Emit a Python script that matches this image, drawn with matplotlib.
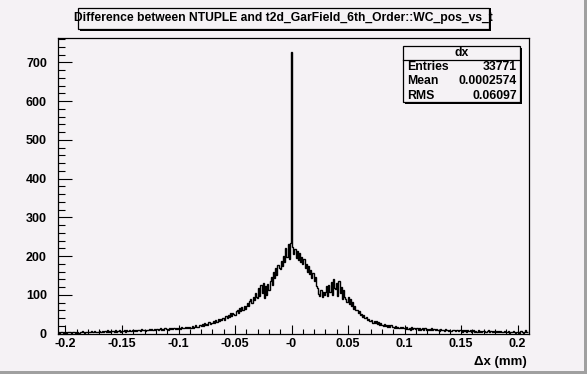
import matplotlib
matplotlib.use('Agg')
import matplotlib.pyplot as plt
import numpy as np
from matplotlib.patches import Rectangle

# histogram dx, 0.001 mm bins, first bin centred at -0.207
counts = [
    2, 4, 1, 3, 5, 2, 3,                              # -0.207
    3, 2, 5, 3, 4, 1, 4, 3, 5, 2,                     # -0.200
    4, 3, 2, 5, 3, 6, 4, 2, 5, 4,                     # -0.190
    3, 5, 4, 6, 3, 5, 7, 4, 5, 3,                     # -0.180
    6, 4, 5, 7, 4, 6, 5, 8, 4, 6,                     # -0.170
    5, 7, 6, 4, 8, 5, 7, 6, 9, 5,                     # -0.160
    7, 6, 8, 5, 9, 7, 6, 8, 7, 10,                    # -0.150
    8, 6, 9, 7, 10, 8, 7, 11, 8, 9,                   # -0.140
    9, 7, 10, 8, 11, 9, 12, 8, 10, 11,                # -0.130
    10, 12, 9, 11, 13, 10, 12, 9, 14, 11,             # -0.120
    12, 10, 13, 11, 14, 12, 15, 11, 13, 12,           # -0.110
    13, 15, 12, 17, 14, 13, 18, 14, 16, 15,           # -0.100
    16, 14, 19, 15, 17, 21, 16, 18, 17, 22,           # -0.090
    19, 24, 20, 26, 21, 25, 23, 29, 24, 28,           # -0.080
    27, 33, 28, 35, 30, 38, 32, 37, 34, 41,           # -0.070
    40, 36, 45, 41, 48, 42, 52, 45, 54, 50,           # -0.060
    49, 58, 61, 53, 66, 57, 68, 60, 72, 63,           # -0.050
    70, 78, 72, 84, 90, 78, 95, 86, 105, 94,          # -0.040
    92, 118, 96, 126, 104, 130, 92, 122, 100, 128,    # -0.030
    112, 136, 145, 126, 158, 142, 168, 152, 176, 170, # -0.020
    166, 188, 174, 200, 184, 220, 198, 230, 192, 234, # -0.010
    727, 222, 204, 218, 194, 214, 190, 208, 184, 198, # 0.000
    180, 192, 168, 180, 160, 174, 154, 164, 144, 156, # 0.010
    136, 146, 122, 118, 102, 98, 112, 94, 106, 100,   # 0.020
    108, 122, 98, 126, 106, 134, 100, 140, 118, 114,  # 0.030
    130, 96, 136, 104, 120, 90, 112, 94, 90, 82,      # 0.040
    94, 76, 88, 70, 82, 64, 72, 60, 60, 52,           # 0.050
    58, 48, 50, 42, 47, 39, 43, 36, 37, 33,           # 0.060
    33, 35, 28, 32, 26, 31, 25, 29, 23, 26,           # 0.070
    23, 20, 25, 19, 23, 18, 22, 17, 21, 16,           # 0.080
    18, 15, 20, 14, 18, 13, 17, 14, 18, 13,           # 0.090
    15, 12, 17, 11, 15, 10, 16, 12, 13, 14,           # 0.100
    12, 14, 10, 13, 9, 12, 14, 10, 13, 9,             # 0.110
    11, 8, 12, 10, 13, 8, 11, 9, 12, 8,               # 0.120
    10, 7, 11, 9, 10, 7, 12, 8, 10, 7,                # 0.130
    9, 6, 10, 8, 9, 6, 8, 10, 6, 9,                   # 0.140
    8, 5, 9, 7, 8, 5, 9, 6, 8, 5,                     # 0.150
    7, 8, 5, 7, 4, 8, 5, 7, 4, 7,                     # 0.160
    6, 7, 4, 6, 8, 4, 6, 7, 4, 6,                     # 0.170
    5, 6, 3, 7, 4, 6, 3, 5, 6, 3,                     # 0.180
    5, 3, 6, 2, 5, 4, 6, 4, 2, 5,                     # 0.190
    4, 5, 2, 6, 3, 2, 5, 8, 3, 5,                     # 0.200
]
bin_width = 0.001
first_edge = -0.2075

x_ticks = [-0.2, -0.15, -0.1, -0.05, 0.0, 0.05, 0.1, 0.15, 0.2]
x_ticklabels = ['-0.2', '-0.15', '-0.1', '-0.05', '-0', '0.05', '0.1', '0.15', '0.2']
y_ticks = [0, 100, 200, 300, 400, 500, 600, 700]

title = 'Difference between NTUPLE and t2d_GarField_6th_Order::WC_pos_vs_t'
stats_name = 'dx'
stats_rows = [('Entries', '33771'), ('Mean', '0.0002574'), ('RMS', '0.06097')]
x_label = '\u0394x (mm)'

W, H = 587, 374
bg = '#f5f2f5'
plt.rcParams['font.family'] = ['Liberation Sans', 'DejaVu Sans']
plt.rcParams['font.weight'] = 'bold'


def fx(x):
    return x / W


def fy(y):
    return 1 - y / H


fig = plt.figure(figsize=(W / 100, H / 100), dpi=100, facecolor=bg)
ax = fig.add_axes([fx(58), fy(333.5), fx(528.5) - fx(58), fy(37.7) - fy(333.5)])
ax.set_facecolor(bg)

edges = first_edge + bin_width * np.arange(len(counts) + 1)
ax.stairs(counts, edges, color='black', lw=1.0, baseline=None)

ax.set_xlim(-0.2066, 0.2096)
ax.set_ylim(0, 763.5)
ax.set_xticks(x_ticks)
ax.set_xticklabels(x_ticklabels)
ax.set_xticks(np.arange(-0.2, 0.2001, 0.01), minor=True)
ax.set_yticks(y_ticks)
ax.set_yticks(np.arange(0, 761, 20), minor=True)
ax.tick_params(axis='both', which='both', direction='in', top=False, right=False,
               labelsize=9, width=0.8)
ax.tick_params(axis='y', which='major', length=10, pad=8)
ax.tick_params(axis='y', which='minor', length=5)
ax.tick_params(axis='x', which='major', length=6.5, pad=3)
ax.tick_params(axis='x', which='minor', length=3.5)
for lab in ax.get_xticklabels() + ax.get_yticklabels():
    lab.set_fontweight('bold')
for s in ax.spines.values():
    s.set_linewidth(0.9)

# title box with shadow
fig.patches.append(Rectangle((fx(80), fy(31)), fx(491) - fx(80), fy(8) - fy(31),
                             transform=fig.transFigure, facecolor='black', edgecolor='black', lw=0))
fig.patches.append(Rectangle((fx(78), fy(29)), fx(489) - fx(78), fy(8) - fy(29),
                             transform=fig.transFigure, facecolor=bg, edgecolor='black', lw=0.9))
fig.text(fx(283.5), fy(18.5), title, ha='center', va='center', fontsize=8.7, fontweight='bold')

# stats box
bx0, bx1, by0, by1 = 403, 520, 46, 102
fig.patches.append(Rectangle((fx(bx0 + 2), fy(by1 + 2)), fx(bx1) - fx(bx0), fy(by0 + 2) - fy(by1 + 2),
                             transform=fig.transFigure, facecolor='black', edgecolor='black', lw=0))
fig.patches.append(Rectangle((fx(bx0), fy(by1)), fx(bx1) - fx(bx0), fy(by0) - fy(by1),
                             transform=fig.transFigure, facecolor=bg, edgecolor='black', lw=0.9))
fig.add_artist(plt.Line2D([fx(bx0), fx(bx1)], [fy(60), fy(60)], transform=fig.transFigure,
                          color='black', lw=0.9))
fig.text(fx((bx0 + bx1) / 2), fy(53), stats_name, ha='center', va='center', fontsize=8.8, fontweight='bold')
for i, (name, val) in enumerate(stats_rows):
    yy = 67 + i * 14.5
    fig.text(fx(407), fy(yy), name, ha='left', va='center', fontsize=8.8, fontweight='bold')
    fig.text(fx(517), fy(yy), val, ha='right', va='center', fontsize=8.8, fontweight='bold')

fig.text(fx(527), fy(362), x_label, ha='right', va='center', fontsize=9.5, fontweight='bold')

# canvas bevel
fig.patches.append(Rectangle((fx(584), 0), fx(3), 1, transform=fig.transFigure,
                             facecolor='#a0a0a0', lw=0))
fig.patches.append(Rectangle((0, 0), 1, fx(3) * W / H, transform=fig.transFigure,
                             facecolor='#a0a0a0', lw=0))

fig.savefig('out.png', dpi=100, facecolor=bg)
